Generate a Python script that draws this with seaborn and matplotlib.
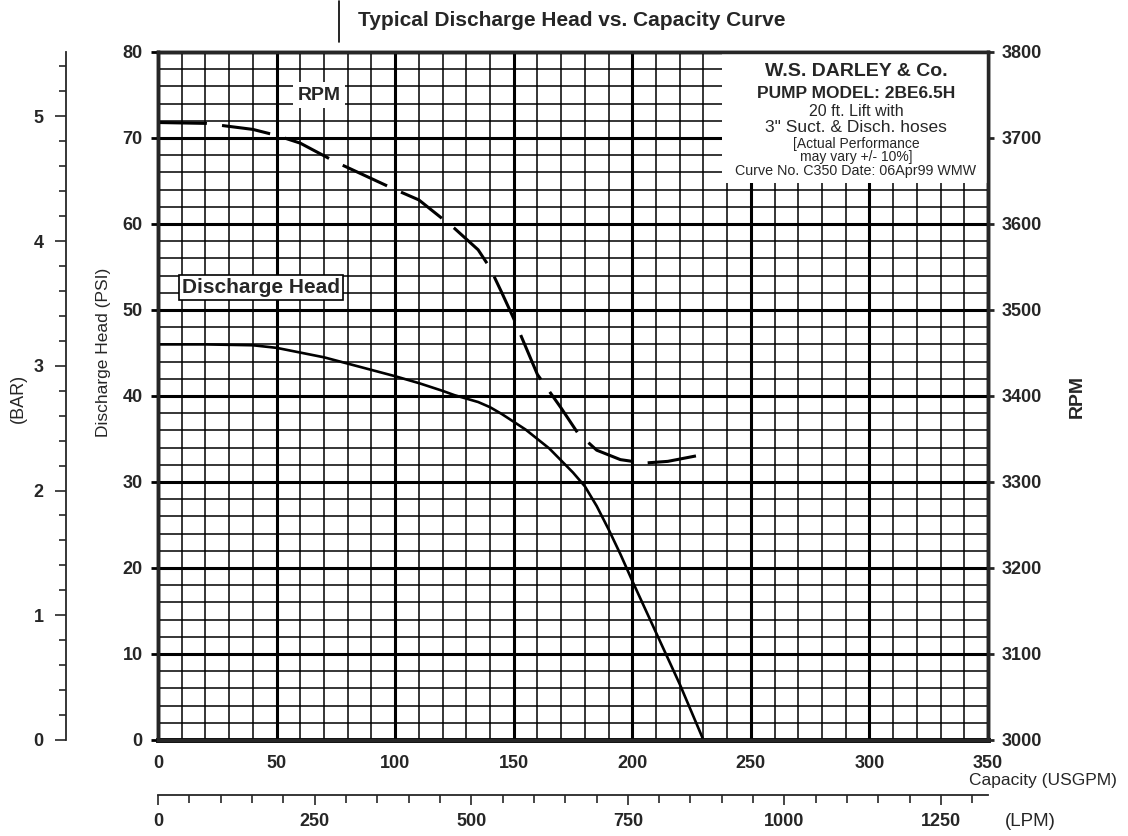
import numpy as np
import pandas as pd
import seaborn as sns
import matplotlib.pyplot as plt
from matplotlib.patches import Rectangle
from matplotlib.lines import Line2D

# curve data
head_gpm = [0, 20, 40, 50, 70, 100, 110, 120, 125, 135, 140, 145, 150, 155, 160, 165, 170,
            175, 180, 185, 190, 195, 200, 210, 220, 230]
head_psi = [46, 46, 45.9, 45.6, 44.5, 42.3, 41.5, 40.6, 40.1, 39.3, 38.7, 37.9, 37, 36.1, 35,
            33.9, 32.5, 31.1, 29.5, 27.2, 24.5, 21.6, 18.5, 12.5, 6.5, 0]

rpm_gpm = [0, 20, 40, 50, 60, 75, 100, 110, 125, 135, 140, 145, 150, 160, 170, 177, 185, 195, 205, 215, 230]
rpm_vals = [3718, 3717, 3710, 3703, 3694, 3672, 3640, 3628, 3595, 3570, 3549, 3520, 3490, 3425,
            3386, 3357, 3337, 3326, 3322, 3324, 3332]

gpm_ticks = [0, 50, 100, 150, 200, 250, 300, 350]
psi_ticks = [0, 10, 20, 30, 40, 50, 60, 70, 80]
rpm_ticks = [3000, 3100, 3200, 3300, 3400, 3500, 3600, 3700, 3800]
bar_ticks = [0, 1, 2, 3, 4, 5]
lpm_ticks = [0, 250, 500, 750, 1000, 1250]

info_lines = ["W.S. DARLEY & Co.", "PUMP MODEL: 2BE6.5H", "20 ft. Lift with",
              "3\" Suct. & Disch. hoses", "[Actual Performance", "may vary +/- 10%]",
              "Curve No. C350 Date: 06Apr99 WMW"]

PSI_PER_BAR = 14.5038
LPM_PER_GPM = 3.78541

sns.set_style('white')
plt.rcParams['font.family'] = ['Liberation Sans', 'DejaVu Sans']

fig = plt.figure(figsize=(11.28, 8.36), dpi=100)
W, H = 1128, 836
ax = fig.add_axes([158 / W, 96 / H, 830 / W, 688 / H])

head_df = pd.DataFrame({'gpm': head_gpm, 'psi': head_psi})
rpm_df = pd.DataFrame({'gpm': rpm_gpm, 'rpm': rpm_vals})

sns.lineplot(data=head_df, x='gpm', y='psi', ax=ax, color='black', lw=1.9, zorder=4)

ax.set_xlim(0, 350)
ax.set_ylim(0, 80)
ax.set_xticks(gpm_ticks)
ax.set_xticks(np.arange(0, 351, 10), minor=True)
ax.set_yticks(psi_ticks)
ax.set_yticks(np.arange(0, 81, 2), minor=True)
ax.grid(which='major', color='black', lw=2.2)
ax.grid(which='minor', color='black', lw=1.1)
ax.tick_params(which='major', direction='out', length=5, width=2, color='black',
               labelsize=13, pad=6)
ax.tick_params(which='minor', length=0)
for lbl in ax.get_xticklabels() + ax.get_yticklabels():
    lbl.set_fontweight('bold')
ax.set_xlabel('')
ax.set_ylabel('')
for s in ax.spines.values():
    s.set_color('black')
    s.set_linewidth(2.5)
ax.spines['bottom'].set_linewidth(3.5)

# info box (top right)
ax.add_patch(Rectangle((0.68, 0.81), 0.33, 0.2, transform=ax.transAxes,
                       facecolor='white', edgecolor='none', zorder=3))
line_y = [72, 94, 111, 128, 144, 157, 171]
sizes = [14, 12.5, 11.5, 12.5, 10, 10, 10.3]
weights = ['bold', 'bold', 'normal', 'normal', 'normal', 'normal', 'normal']
for txt, yy, fs, fw in zip(info_lines, line_y, sizes, weights):
    fig.text(856 / W, 1 - yy / H, txt, ha='center', va='center', fontsize=fs,
             fontweight=fw, zorder=10)

# curve labels
ax.text(0.194, 0.9375, 'RPM', transform=ax.transAxes, ha='center', va='center',
        fontsize=14, fontweight='bold', zorder=5,
        bbox=dict(boxstyle='square,pad=0.25', facecolor='white', edgecolor='none'))
ax.text(0.124, 0.658, 'Discharge Head', transform=ax.transAxes, ha='center', va='center',
        fontsize=15, fontweight='bold', zorder=5,
        bbox=dict(boxstyle='square,pad=0.15', facecolor='white', edgecolor='black', lw=1.2))

# RPM axis on the right
ax2 = ax.twinx()
sns.lineplot(data=rpm_df, x='gpm', y='rpm', ax=ax2, color='black', lw=2.2,
             linestyle=(0, (16, 5)))
ax2.set_ylim(3000, 3800)
ax2.set_yticks(rpm_ticks)
ax2.grid(False)
ax2.set_ylabel('')
ax2.tick_params(axis='y', direction='out', length=4, width=2, labelsize=13, pad=6)
for lbl in ax2.get_yticklabels():
    lbl.set_fontweight('bold')
for s in ax2.spines.values():
    s.set_linewidth(2.5)

# BAR axis far left
bar_ax = ax.secondary_yaxis(-0.111, functions=(lambda p: p / PSI_PER_BAR,
                                               lambda b: b * PSI_PER_BAR))
bar_ax.set_yticks(bar_ticks)
bar_ax.set_yticks(np.arange(0, 5.5, 0.2), minor=True)
bar_ax.tick_params(which='major', direction='out', length=8, width=1.2, labelsize=13, pad=8)
bar_ax.tick_params(which='minor', direction='out', length=5, width=1.2)
bar_ax.spines['left'].set_linewidth(1.3)
for lbl in bar_ax.get_yticklabels():
    lbl.set_fontweight('bold')

# LPM axis below
lpm_ax = ax.secondary_xaxis(-0.08, functions=(lambda g: g * LPM_PER_GPM,
                                              lambda l: l / LPM_PER_GPM))
lpm_ax.set_xticks(lpm_ticks)
lpm_ax.set_xticks(np.arange(0, 1301, 50), minor=True)
lpm_ax.tick_params(which='major', direction='out', length=7, width=1.2, labelsize=13, pad=6)
lpm_ax.tick_params(which='minor', direction='out', length=6, width=1.2)
lpm_ax.spines['bottom'].set_linewidth(1.3)
for lbl in lpm_ax.get_xticklabels():
    lbl.set_fontweight('bold')

# axis titles and header
fig.text(572 / W, 1 - 20 / H, 'Typical Discharge Head vs. Capacity Curve', ha='center',
         va='center', fontsize=15, fontweight='bold')
fig.add_artist(Line2D([339 / W, 339 / W], [1 - 1 / H, 1 - 42 / H], color='black', lw=1.2))
fig.text(103 / W, 1 - 352 / H, 'Discharge Head (PSI)', rotation=90, ha='center',
         va='center', fontsize=12.5)
fig.text(18 / W, 1 - 398 / H, '(BAR)', rotation=90, ha='center', va='center', fontsize=13)
fig.text(1077 / W, 1 - 397 / H, 'RPM', rotation=90, ha='center', va='center',
         fontsize=14, fontweight='bold')
fig.text(1043 / W, 1 - 781 / H, 'Capacity (USGPM)', ha='center', va='center', fontsize=12.5)
fig.text(1030 / W, 1 - 822 / H, '(LPM)', ha='center', va='center', fontsize=13.5)

fig.savefig('out.png', dpi=100, facecolor='white')
